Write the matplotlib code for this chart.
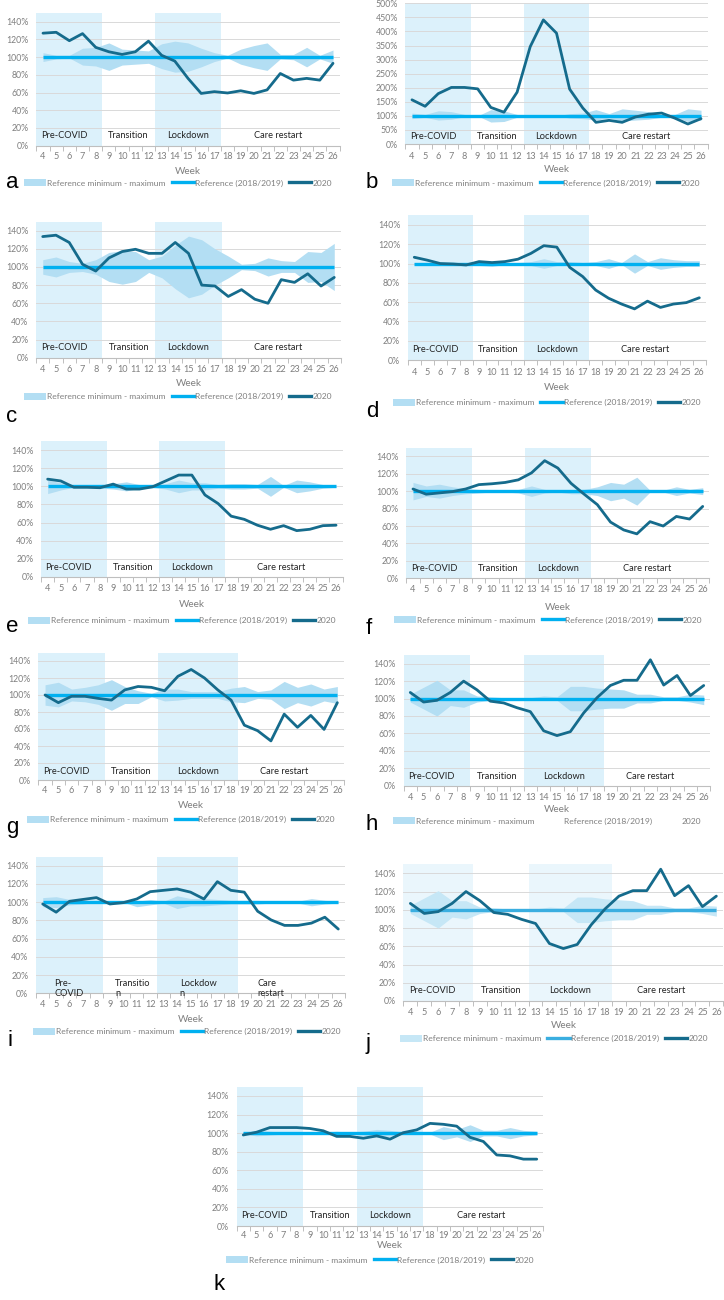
import matplotlib
matplotlib.use("Agg")
import matplotlib.pyplot as plt
from matplotlib.patches import Patch
from matplotlib.lines import Line2D
import numpy as np

plt.rcParams['font.family'] = ['Lato', 'DejaVu Sans']

# ---------------- data ----------------
weeks = list(range(4, 27))
week_labels = [str(w) for w in weeks]
phase_names = ["Pre-COVID", "Transition", "Lockdown", "Care restart"]
phase_names_wrapped = ["Pre-\nCOVID", "Transitio\nn", "Lockdow\nn", "Care\nrestart"]
legend_labels = ["Reference minimum - maximum", "Reference (2018/2019)", "2020"]

pre_weeks = [4, 5, 6, 7, 8]
lockdown_short = [13, 14, 15, 16, 17]
lockdown_long = [13, 14, 15, 16, 17, 18]

reference = [100] * 23

a_2020 = [127, 128, 118.5, 126.5, 111, 106, 103, 106, 118, 102, 95.5, 76, 59, 61, 59.5, 62, 59, 63, 81.5, 74, 76, 74, 93]
a_max = [105, 102, 102, 110, 111, 116, 109, 108, 107, 115, 118, 116, 110, 105, 102, 109, 113, 116, 103, 103, 111, 102, 108]
a_min = [95, 98, 99, 91, 90, 85, 91, 92, 93, 87, 83, 84, 89, 95, 99, 92, 88, 85, 98, 97, 89, 98, 93]

b_2020 = [157, 134, 179, 201, 201, 196, 130, 113, 184, 346, 441, 394, 195, 128, 77, 84, 77, 96, 106, 110, 92, 71, 90]
b_max = [110, 105, 118, 115, 105, 100, 122, 118, 105, 100, 100, 100, 108, 110, 122, 108, 125, 120, 115, 105, 105, 125, 120]
b_min = [90, 95, 85, 88, 97, 100, 78, 80, 95, 100, 100, 100, 92, 90, 85, 92, 82, 85, 88, 95, 95, 80, 85]

c_2020 = [133.5, 135, 127, 103, 95.5, 110, 117, 119.5, 115, 115, 127, 115, 80, 79, 67.5, 75, 64.5, 60, 86, 83, 92.5, 79, 88.5]
c_max = [108, 111, 106, 104, 108, 116, 118, 117, 108, 112, 124, 134, 130, 120, 112, 103, 104, 110, 107, 106, 117, 116, 126]
c_min = [92, 89, 94, 95, 92, 84, 81, 84, 94, 88, 76, 66, 70, 80, 88, 97, 96, 90, 94, 94, 83, 84, 74]

d_2020 = [106.5, 103.5, 100, 99.5, 98.5, 102, 101, 102, 104.5, 110.5, 118.5, 117, 96, 86.5, 72.5, 64, 58, 53, 61, 54.5, 58, 59.5, 64.5]
d_max = [101, 101, 101, 101, 101, 102, 102, 101, 101, 102, 105, 102, 102, 101, 102, 105, 101, 110, 102, 106, 104, 103, 103]
d_min = [99, 99, 99, 99, 99, 98, 97, 99, 99, 98, 95, 98, 98, 99, 98, 95, 99, 90, 98, 94, 96, 97, 97]

e_2020 = [108, 106, 99, 99, 98.5, 102.5, 97, 97, 99.5, 106, 112.5, 112.5, 90.5, 81, 67, 63.5, 57, 52.5, 56.5, 51, 52.5, 56.5, 57]
e_max = [107, 104, 101, 101, 102, 103, 105, 102, 101, 103, 107, 104, 104, 102, 103, 103, 102, 111, 101, 107, 105, 102, 101]
e_min = [92, 96, 99, 99, 98, 97, 95, 98, 99, 97, 93, 96, 96, 98, 97, 97, 98, 89, 99, 93, 95, 98, 99]

f_2020 = [102.5, 96.5, 98, 99.5, 102.5, 107.5, 108.5, 110, 113, 121, 135, 126.5, 109, 96.5, 84.5, 64.5, 55.5, 51, 65, 60, 71, 68, 82.5]
f_max = [110, 106, 108, 105, 103, 102, 101, 101, 102, 106, 102, 101, 101, 102, 105, 110, 108, 116, 101, 101, 105, 102, 104]
f_min = [90, 94, 92, 95, 97, 98, 99, 99, 98, 94, 98, 99, 97, 97, 95, 89, 92, 84, 99, 99, 95, 98, 96]

g_2020 = [100, 91, 98.5, 98.5, 96, 94, 106, 110, 109, 105, 122, 130, 120, 106, 94, 64.5, 58, 46, 77.5, 62, 76, 59.5, 91]
g_max = [112, 115, 107, 109, 112, 118, 110, 105, 102, 107, 107, 104, 104, 104, 108, 110, 104, 106, 116, 109, 113, 107, 110]
g_min = [88, 86, 93, 92, 89, 82, 90, 90, 98, 93, 94, 96, 96, 96, 92, 91, 96, 95, 84, 91, 87, 93, 90]

h_2020 = [107, 96, 98, 107, 120, 110, 97, 95, 89.5, 85, 63, 57.5, 62, 83.5, 101, 115, 121, 121, 144.5, 115.5, 126.5, 103.5, 115]
h_max = [105, 113, 121, 110, 110, 103, 102, 101, 100, 101, 103, 102, 114, 114, 112, 111, 110, 105, 105, 102, 102, 105, 104]
h_min = [96, 88, 80, 92, 90, 96, 98, 99, 100, 99, 98, 98, 86, 86, 88, 89, 89, 95, 95, 98, 98, 96, 93]

i_2020 = [98, 89, 101, 103, 105, 98, 99.5, 103.5, 111.5, 113, 114.5, 111, 103.5, 122.5, 113, 111, 90, 80.5, 74.5, 74.5, 77, 83.5, 70.5]
i_max = [105, 106, 103, 102, 100, 101, 100, 101, 103, 101, 107, 104, 104, 103, 102, 102, 102, 101, 101, 101, 104, 102, 101]
i_min = [95, 94, 97, 98, 100, 99, 100, 95, 97, 99, 93, 96, 96, 97, 98, 98, 98, 99, 99, 99, 96, 98, 99]

j_2020 = [107, 96, 98, 107, 120, 110, 97, 95, 89.5, 85, 63, 57.5, 62, 83.5, 101, 115, 121, 121, 144.5, 115.5, 126.5, 103.5, 115]
j_max = [105, 113, 121, 110, 110, 103, 102, 101, 100, 101, 103, 102, 114, 114, 112, 111, 110, 105, 105, 102, 102, 105, 104]
j_min = [96, 88, 80, 92, 90, 96, 98, 99, 100, 99, 98, 98, 86, 86, 88, 89, 89, 95, 95, 98, 98, 96, 93]

k_2020 = [98, 101, 106, 106, 106, 105, 102.5, 96.5, 96.5, 94.5, 97, 93.5, 100.5, 103.5, 110.5, 109.5, 107.5, 95.5, 91, 76.5, 75.5, 72, 72]
k_max = [101, 103, 102, 101, 101, 101, 101, 102, 101, 102, 104, 103, 101, 101, 101, 107, 104, 109, 103, 103, 106, 103, 102]
k_min = [99, 97, 98, 99, 99, 99, 99, 98, 99, 98, 96, 97, 99, 99, 99, 93, 96, 91, 97, 97, 94, 97, 98]

# ---------------- styles ----------------
SHADE = '#dcf1fb'
BAND = '#b3def3'
REF = '#00b0f0'
LINE = '#156b8c'
GRAY = '#7f7f7f'
AXIS = '#bfbfbf'
GRID = '#d9d9d9'

W, H = 724, 1300
fig = plt.figure(figsize=(W / 100, H / 100), dpi=100)

# layout (pixels): left, right, y0, ytop, tick_y, week_y, leg_x, leg_y, let_x, let_y, phase_y
panels = [
    dict(letter='a', y=a_2020, hi=a_max, lo=a_min, ymax=150, step=20, lock=lockdown_short,
         box=(36.4, 339.6, 145.7, 12.8, 157, 172, 178, 183, 12, 183, 11)),
    dict(letter='b', y=b_2020, hi=b_max, lo=b_min, ymax=500, step=50, lock=lockdown_short,
         box=(405.4, 707.6, 144, 3.3, 157, 170, 546, 183, 372, 183, 26)),
    dict(letter='c', y=c_2020, hi=c_max, lo=c_min, ymax=150, step=20, lock=lockdown_short,
         box=(36.1, 340.9, 357.7, 221.6, 369.3, 383, 178, 396.7, 12, 417, 11)),
    dict(letter='d', y=d_2020, hi=d_max, lo=d_min, ymax=150, step=20, lock=lockdown_short,
         box=(407.8, 705.8, 360, 215.3, 373, 388, 546.7, 402.7, 372, 412, 10.4)),
    dict(letter='e', y=e_2020, hi=e_max, lo=e_min, ymax=150, step=20, lock=lockdown_short,
         box=(41.1, 342.6, 576.7, 441.2, 588.3, 604.3, 182, 620.7, 12, 627, 10)),
    dict(letter='f', y=f_2020, hi=f_max, lo=f_min, ymax=150, step=20, lock=lockdown_short,
         box=(406.4, 709.3, 578.3, 447.6, 590, 607.3, 548, 620, 369, 628, 10.7)),
    dict(letter='g', y=g_2020, hi=g_max, lo=g_min, ymax=150, step=20, lock=lockdown_long,
         box=(38.4, 344, 780, 652.5, 791, 806, 181, 819.3, 12, 827, 9.8)),
    dict(letter='h', y=h_2020, hi=h_max, lo=h_min, ymax=150, step=20, lock=lockdown_long,
         box=(403.6, 710.4, 785.7, 655, 797.3, 809, 547, 821, 372, 825, 11.1), noleglines=True),
    dict(letter='i', y=i_2020, hi=i_max, lo=i_min, ymax=150, step=20, lock=lockdown_long,
         box=(36, 345, 993.3, 856.6, 1005, 1019.3, 187, 1031.7, 10, 1040, 5), wrapped=True),
    dict(letter='j', y=j_2020, hi=j_max, lo=j_min, ymax=150, step=20, lock=lockdown_long,
         box=(403.4, 723.3, 1001, 864.2, 1012.7, 1026, 553.7, 1038.3, 368, 1043, 11), light=True),
    dict(letter='k', y=k_2020, hi=k_max, lo=k_min, ymax=150, step=20, lock=lockdown_short,
         box=(236.6, 543.4, 1226, 1086.7, 1236, 1245.7, 380, 1260, 219, 1284, 11.8)),
]

x = np.arange(len(weeks))

for p in panels:
    left, right, y0, ytop, tick_y, week_y, leg_x, leg_y, let_x, let_y, phase_y = p['box']
    shade = '#eaf6fc' if p.get('light') else SHADE
    band = '#c6e7f6' if p.get('light') else BAND
    refc = '#3aaee0' if p.get('light') else REF
    ax = fig.add_axes([left / W, 1 - y0 / H, (right - left) / W, (y0 - ytop) / H])
    ymax = p['ymax']
    # phase shading
    for wk in (pre_weeks, p['lock']):
        ax.axvspan(weeks.index(wk[0]) - 0.5, weeks.index(wk[-1]) + 0.5, color=shade, lw=0, zorder=0.2)
    ax.fill_between(x, p['lo'], p['hi'], color=band, lw=0, zorder=1)
    ax.plot(x, reference, color=refc, lw=2.4, zorder=2, solid_capstyle='butt')
    ax.plot(x, p['y'], color=LINE, lw=2.0, zorder=3, solid_joinstyle='round', solid_capstyle='round')
    ax.set_xlim(-0.5, len(weeks) - 0.5)
    ax.set_ylim(0, ymax)
    top_tick = 140 if ymax == 150 else ymax
    yt = list(range(0, top_tick + 1, p['step']))
    ax.set_yticks(yt)
    ax.set_yticklabels([f"{int(v)}%" for v in yt], fontsize=6.3, color=GRAY)
    ax.tick_params(axis='y', length=0, pad=5.5)
    ax.set_xticks(x)
    pad = (tick_y - y0 - 4.7) / 1.389
    ax.set_xticklabels(week_labels, fontsize=6.6, color=GRAY)
    ax.tick_params(axis='x', which='major', length=0, pad=pad)
    ax.set_xticks(np.arange(-0.5, len(weeks), 1), minor=True)
    ax.tick_params(axis='x', which='minor', length=3.5, color=AXIS, width=0.7)
    ax.yaxis.grid(True, color=GRID, lw=0.7)
    ax.set_axisbelow(True)
    for s in ('top', 'right', 'left'):
        ax.spines[s].set_visible(False)
    ax.spines['bottom'].set_color(AXIS)
    ax.spines['bottom'].set_linewidth(0.8)
    ax.spines['bottom'].set_zorder(4)

    # phase labels
    ytxt = phase_y / ymax
    lock_start = weeks.index(p['lock'][0]) - 0.5
    lock_end = weeks.index(p['lock'][-1]) + 0.5
    if p.get('wrapped'):
        xs = [0.85, 5.4, 10.2, 16.0]
        for name, xp in zip(phase_names_wrapped, xs):
            ax.text(xp, ytxt, name, transform=ax.get_xaxis_transform(), ha='left', va='center',
                    fontsize=6.7, color='#222222', linespacing=1.2, zorder=5)
    else:
        xs = [1.6, (weeks.index(pre_weeks[-1]) + 0.5 + lock_start) / 2,
              (lock_start + lock_end) / 2, 17.8 if p['lock'] is lockdown_short else 18.0]
        for name, xp in zip(phase_names, xs):
            ax.text(xp, ytxt, name, transform=ax.get_xaxis_transform(), ha='center', va='center',
                    fontsize=6.7, color='#222222', zorder=5)

    # Week label
    fig.text((left + right) / 2 / W, 1 - week_y / H, "Week", ha='center', va='center',
             fontsize=7.2, color=GRAY)
    # legend
    vis = 0 if p.get('noleglines') else 1
    handles = [Patch(facecolor=band, edgecolor='none'),
               Line2D([], [], color=refc, lw=2.4, alpha=vis),
               Line2D([], [], color=LINE, lw=2.4, alpha=vis)]
    leg = fig.legend(handles, legend_labels, loc='center', bbox_to_anchor=(leg_x / W, 1 - leg_y / H),
                     ncol=3, frameon=False, fontsize=6.1, handlelength=2.6, handleheight=0.9,
                     handletextpad=0.15, columnspacing=0.7, borderpad=0, borderaxespad=0)
    for t in leg.get_texts():
        t.set_color(GRAY)
    # panel letter
    fig.text(let_x / W, 1 - let_y / H, p['letter'], ha='center', va='center', fontsize=16,
             family='Liberation Sans', color='black')

fig.savefig('out.png', dpi=100, facecolor='white')
